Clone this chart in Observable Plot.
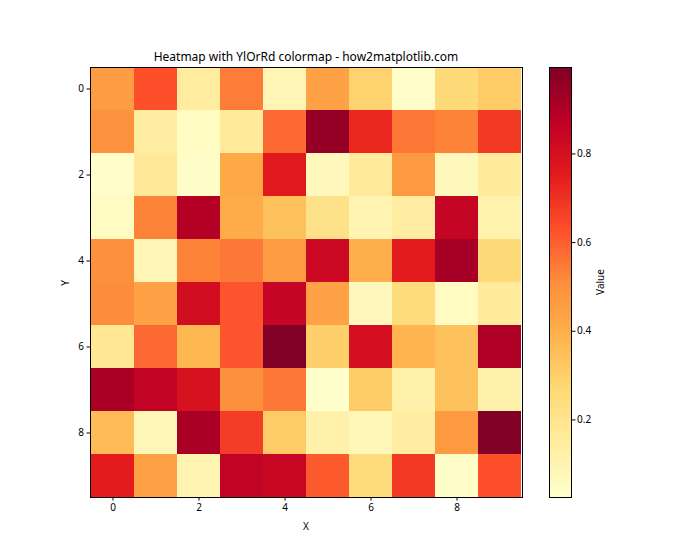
<!DOCTYPE html>
<html><head><meta charset="utf-8">
<script src="https://cdn.jsdelivr.net/npm/d3@7"></script>
<script src="https://cdn.jsdelivr.net/npm/@observablehq/plot@0.6"></script>
<style>
body{margin:0;background:#fff}
#fig{position:relative;width:700px;height:560px;font-family:"Noto Sans",sans-serif;color:#000}
#fig svg{position:absolute;top:0;overflow:visible}
</style>
</head><body><div id="fig"></div>
<script>
const title = "Heatmap with YlOrRd colormap - how2matplotlib.com";
const xIndex = [0,1,2,3,4,5,6,7,8,9];
const yIndex = [0,1,2,3,4,5,6,7,8,9];
const axisTicks = [0,2,4,6,8];
const colorbarTicks = [0.2,0.4,0.6,0.8];
const ylorrd = ["#ffffcc","#ffeda0","#fed976","#feb24c","#fd8d3c","#fc4e2a","#e31a1c","#bd0026","#800026"];

const row0 = [0.46,0.63,0.15,0.54,0.09,0.44,0.29,0.03,0.26,0.31];
const row1 = [0.49,0.14,0.05,0.16,0.58,0.95,0.72,0.55,0.53,0.68];
const row2 = [0.03,0.17,0.04,0.42,0.76,0.07,0.16,0.47,0.07,0.16];
const row3 = [0.05,0.53,0.89,0.41,0.34,0.21,0.10,0.14,0.85,0.11];
const row4 = [0.50,0.09,0.53,0.55,0.46,0.83,0.40,0.75,0.92,0.26];
const row5 = [0.51,0.44,0.81,0.62,0.85,0.44,0.07,0.25,0.05,0.16];
const row6 = [0.18,0.58,0.37,0.62,0.995,0.30,0.80,0.38,0.34,0.90];
const row7 = [0.91,0.86,0.79,0.50,0.55,0.025,0.31,0.12,0.34,0.12];
const row8 = [0.36,0.08,0.91,0.67,0.31,0.12,0.08,0.14,0.47,0.99];
const row9 = [0.75,0.44,0.10,0.86,0.84,0.61,0.25,0.68,0.04,0.63];
const values = [row0,row1,row2,row3,row4,row5,row6,row7,row8,row9];

const cells = values.flatMap((r,i)=>r.map((v,j)=>({x:xIndex[j], y:yIndex[i], v})));
const [vmin, vmax] = d3.extent(cells, d=>d.v);
const colorDomain = ylorrd.map((_,k)=>vmin + (vmax-vmin)*k/(ylorrd.length-1));
const colorOpts = {type:"linear", domain:colorDomain, range:ylorrd, interpolate:"rgb"};

const fig = document.getElementById("fig");
const font = "Noto Sans";

const main = Plot.plot({
  width:540, height:560,
  marginLeft:90, marginRight:18, marginTop:67, marginBottom:63,
  style:{fontFamily:font, fontSize:"10px", color:"#000", background:"transparent"},
  x:{type:"band", domain:xIndex, padding:0},
  y:{type:"band", domain:yIndex, padding:0},
  color:colorOpts,
  marks:[
    Plot.cell(cells,{x:"x", y:"y", fill:"v", inset:0, shapeRendering:"crispEdges"}),
    Plot.frame({stroke:"#000", strokeWidth:1}),
    Plot.axisX({ticks:axisTicks, tickSize:3.5, tickPadding:3, label:null, fontSize:10}),
    Plot.axisY({ticks:axisTicks, tickSize:3.5, tickPadding:3, label:null, fontSize:10})
  ]
});
main.style.left = "0px";
fig.appendChild(main);

const ms = d3.select(main);
ms.append("text").attr("x",306).attr("y",61).attr("text-anchor","middle")
  .attr("font-size",12).attr("font-family",font).attr("fill","#000").text(title);
ms.append("text").attr("x",306).attr("y",530).attr("text-anchor","middle")
  .attr("font-size",10).attr("font-family",font).attr("fill","#000").text("X");
ms.append("text").attr("transform","translate(69,283) rotate(-90)").attr("text-anchor","middle")
  .attr("font-size",10).attr("font-family",font).attr("fill","#000").text("Y");

const nSteps = 256;
const steps = d3.range(nSteps).map(k=>({
  y1: vmin + (vmax-vmin)*k/nSteps,
  y2: vmin + (vmax-vmin)*(k+1)/nSteps,
  v: vmin + (vmax-vmin)*(k+0.5)/nSteps
}));

const cb = Plot.plot({
  width:170, height:560,
  marginLeft:19, marginRight:129, marginTop:67, marginBottom:63,
  style:{fontFamily:font, fontSize:"10px", color:"#000", background:"transparent"},
  x:{domain:[0,1], axis:null},
  y:{type:"linear", domain:[vmin,vmax]},
  color:colorOpts,
  marks:[
    Plot.rect(steps,{x1:0, x2:1, y1:"y1", y2:"y2", fill:"v", shapeRendering:"crispEdges"}),
    Plot.frame({stroke:"#000", strokeWidth:1}),
    Plot.axisY({anchor:"right", ticks:colorbarTicks, tickFormat:".1f", tickSize:3.5, tickPadding:2, label:null, fontSize:10})
  ]
});
cb.style.left = "530px";
fig.appendChild(cb);
d3.select(cb).append("text").attr("transform","translate(74,282) rotate(-90)").attr("text-anchor","middle")
  .attr("font-size",10).attr("font-family",font).attr("fill","#000").text("Value");
</script>
</body></html>
